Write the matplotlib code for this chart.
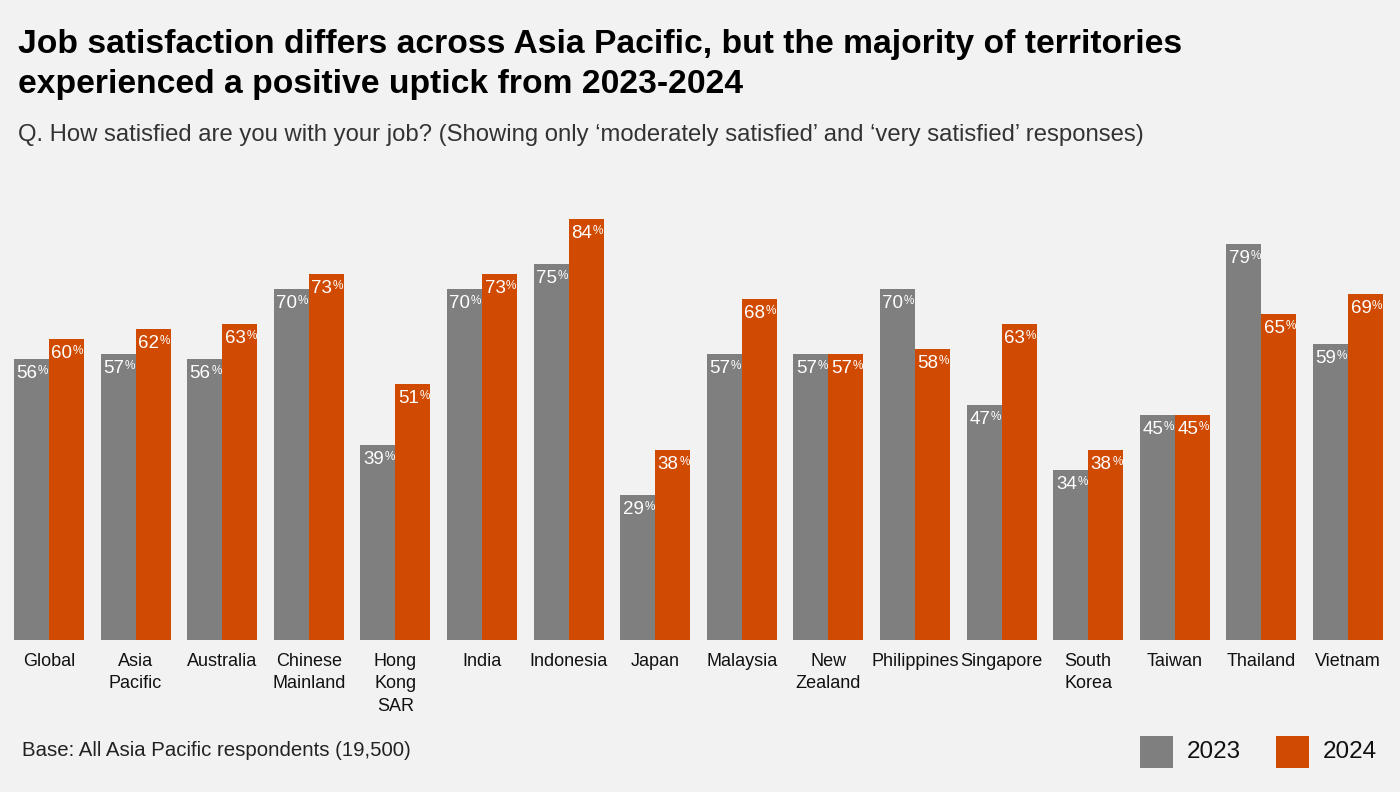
import matplotlib
matplotlib.use("Agg")
import matplotlib.pyplot as plt
from matplotlib.patches import Rectangle
import numpy as np

plt.rcParams['font.family'] = ['Liberation Sans', 'DejaVu Sans']

categories = ["Global", "Asia\nPacific", "Australia", "Chinese\nMainland", "Hong\nKong\nSAR",
              "India", "Indonesia", "Japan", "Malaysia", "New\nZealand", "Philippines",
              "Singapore", "South\nKorea", "Taiwan", "Thailand", "Vietnam"]
vals_2023 = [56, 57, 56, 70, 39, 70, 75, 29, 57, 57, 70, 47, 34, 45, 79, 59]
vals_2024 = [60, 62, 63, 73, 51, 73, 84, 38, 68, 57, 58, 63, 38, 45, 65, 69]
series_names = ["2023", "2024"]

GREY = "#7f7f7f"
ORANGE = "#d04a02"
BG = "#f2f2f2"

W, H = 1400, 792
fig = plt.figure(figsize=(W / 100, H / 100), dpi=100, facecolor=BG)

ax_left = 5.7 / W
ax_w = 1385.6 / W
ax_bottom = 1 - 640 / H
ax_h = (640 - 139) / H
ax = fig.add_axes([ax_left, ax_bottom, ax_w, ax_h])
ax.set_facecolor(BG)

x = np.arange(len(categories))
bw = 35 / 86.6
b1 = ax.bar(x - bw / 2, vals_2023, width=bw, color=GREY)
b2 = ax.bar(x + bw / 2, vals_2024, width=bw, color=ORANGE)
ax.set_xlim(-0.5, len(categories) - 0.5)
ax.set_ylim(0, 100)
for s in ax.spines.values():
    s.set_visible(False)
ax.set_yticks([])
ax.set_xticks(x)
ax.set_xticklabels(categories, fontsize=13, color="#111111", linespacing=1.45, va="top")
ax.tick_params(axis='x', length=0, pad=9)

px = 0.72  # points per pixel
for bars, vals in ((b1, vals_2023), (b2, vals_2024)):
    for rect, v in zip(bars, vals):
        cx = rect.get_x() + rect.get_width() / 2
        top = rect.get_height()
        ax.annotate(f"{v}", xy=(cx, top), xytext=(6 * px, -6 * px), textcoords="offset points",
                    ha="right", va="top", color="white", fontsize=13.5)
        ax.annotate("%", xy=(cx, top), xytext=(6.5 * px, -6 * px), textcoords="offset points",
                    ha="left", va="top", color="white", fontsize=8.5)

fig.text(18 / W, 1 - 44 / H, "Job satisfaction differs across Asia Pacific, but the majority of territories",
         fontsize=24.2, fontweight="bold", color="black", va="center", ha="left")
fig.text(18 / W, 1 - 84 / H, "experienced a positive uptick from 2023-2024",
         fontsize=24.2, fontweight="bold", color="black", va="center", ha="left")
fig.text(18 / W, 1 - 135 / H,
         "Q. How satisfied are you with your job? (Showing only \u2018moderately satisfied\u2019 and \u2018very satisfied\u2019 responses)",
         fontsize=17.2, color="#333333", va="center", ha="left")
fig.text(22 / W, 1 - 751 / H, "Base: All Asia Pacific respondents (19,500)",
         fontsize=14.7, color="#222222", va="center", ha="left")

# legend
for x0, col, name in ((1140, GREY, series_names[0]), (1276, ORANGE, series_names[1])):
    fig.patches.append(Rectangle((x0 / W, 1 - 768 / H), 33 / W, 32 / H, transform=fig.transFigure,
                                 facecolor=col, edgecolor="none"))
    fig.text((x0 + 47) / W, 1 - 752 / H, name, fontsize=17.5, color="#111111", va="center", ha="left")

fig.savefig("out.png", dpi=100, facecolor=BG)
